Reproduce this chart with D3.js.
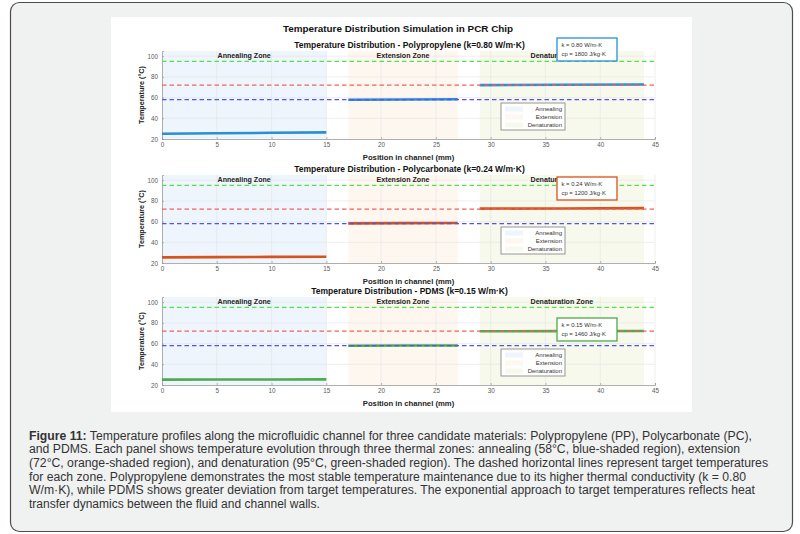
<!DOCTYPE html>
<html>
<head>
<meta charset="utf-8">
<script src="https://cdn.jsdelivr.net/npm/d3@7"></script>
<style>
  body { margin: 0; background: #fff; }
  svg { display: block; font-family: "Liberation Sans", Arial, sans-serif; }
</style>
</head>
<body>
<div id="chart"></div>
<script>
// --- données ---
const materials = ["Polypropylene", "Polycarbonate", "PDMS"];
const kValues = [0.80, 0.24, 0.15];
const cpValues = [1800, 1200, 1460];
const materialColors = ["#2a8fd4", "#d4541c", "#4cab4c"];

const zoneNames = ["Annealing Zone", "Extension Zone", "Denaturation Zone"];
const legendNames = ["Annealing", "Extension", "Denaturation"];
const zoneStart = [0, 17, 29];
const zoneEnd = [15, 27, 44];
const zoneFills = ["#eef5fc", "#fdf7ef", "#f7f9ec"];

const targetTemps = [95, 72, 58];
const targetColors = ["#4fe34f", "#f06262", "#5252f0"];

const xTicks = [0, 5, 10, 15, 20, 25, 30, 35, 40, 45];
const yTicks = [20, 40, 60, 80, 100];

// positions des points de chaque segment (mm)
const segX = [[0, 5, 10, 15], [17, 22, 27], [29, 36.5, 44]];
// températures (°C) par matériau et par segment
const ppTemps = [[25.0, 25.5, 26.0, 26.4], [57.9, 58.2, 58.4], [72.0, 72.4, 72.7]];
const pcTemps = [[25.4, 25.7, 25.9, 26.1], [58.3, 58.5, 58.6], [72.5, 72.7, 73.0]];
const pdmsTemps = [[25.2, 25.3, 25.3, 25.4], [57.9, 58.1, 58.2], [71.9, 72.0, 72.1]];
const allTemps = [ppTemps, pcTemps, pdmsTemps];

const captionLines = [
  "Temperature profiles along the microfluidic channel for three candidate materials: Polypropylene (PP), Polycarbonate (PC),",
  "and PDMS. Each panel shows temperature evolution through three thermal zones: annealing (58°C, blue-shaded region), extension",
  "(72°C, orange-shaded region), and denaturation (95°C, green-shaded region). The dashed horizontal lines represent target temperatures",
  "for each zone. Polypropylene demonstrates the most stable temperature maintenance due to its higher thermal conductivity (k = 0.80",
  "W/m·K), while PDMS shows greater deviation from target temperatures. The exponential approach to target temperatures reflects heat",
  "transfer dynamics between the fluid and channel walls."
];

// --- mise en page ---
const width = 800, height = 534;
const plotLeft = 162, plotRight = 655;
const panelTops = [51, 175, 297];
const panelH = 88;

const svg = d3.select("#chart").append("svg")
  .attr("width", width).attr("height", height);

// cadre gris arrondi
svg.append("rect")
  .attr("x", 10.5).attr("y", 2.5).attr("width", 782).attr("height", 529)
  .attr("rx", 9).attr("fill", "#f0f1f1").attr("stroke", "#4d4d4d").attr("stroke-width", 1.2);

// zone blanche de la figure
svg.append("rect")
  .attr("x", 111).attr("y", 17).attr("width", 581).attr("height", 395)
  .attr("fill", "#fff");

svg.append("text")
  .attr("x", 398).attr("y", 32)
  .attr("text-anchor", "middle")
  .attr("font-weight", "bold").attr("font-size", 9.9).attr("fill", "#111")
  .text("Temperature Distribution Simulation in PCR Chip");

const x = d3.scaleLinear().domain([0, 45]).range([plotLeft, plotRight]);

materials.forEach((m, i) => drawPanel(i));

function drawPanel(i) {
  const top = panelTops[i];
  const y = d3.scaleLinear().domain([20, 105]).range([top + panelH, top]);
  const g = svg.append("g");

  // zones ombrées
  g.selectAll(".zone").data(zoneNames).join("rect")
    .attr("x", (d, j) => x(zoneStart[j]))
    .attr("y", y(105))
    .attr("width", (d, j) => x(zoneEnd[j]) - x(zoneStart[j]))
    .attr("height", y(20) - y(105))
    .attr("fill", (d, j) => zoneFills[j]);

  // grille
  g.selectAll(".gx").data(xTicks.slice(1)).join("line")
    .attr("x1", d => x(d)).attr("x2", d => x(d))
    .attr("y1", y(20)).attr("y2", y(105))
    .attr("stroke", "#e4e4e4").attr("stroke-width", 0.6);
  g.selectAll(".gy").data(yTicks.slice(1)).join("line")
    .attr("x1", x(0)).attr("x2", x(45))
    .attr("y1", d => y(d)).attr("y2", d => y(d))
    .attr("stroke", "#e4e4e4").attr("stroke-width", 0.6);

  // axes
  const xAxis = g.append("g")
    .attr("transform", `translate(0,${y(20)})`)
    .call(d3.axisBottom(x).tickValues(xTicks).tickSize(-2).tickPadding(4));
  const yAxis = g.append("g")
    .attr("transform", `translate(${x(0)},0)`)
    .call(d3.axisLeft(y).tickValues(yTicks).tickSize(-2).tickPadding(4));
  [xAxis, yAxis].forEach(a => {
    a.select(".domain").attr("stroke", "#9a9a9a").attr("stroke-width", 0.8);
    a.selectAll(".tick line").attr("stroke", "#9a9a9a").attr("stroke-width", 0.7);
    a.selectAll(".tick text").attr("fill", "#5a5a5a").attr("font-size", 6.3)
      .attr("font-family", "Liberation Sans, Arial, sans-serif");
  });

  // noms des zones
  g.selectAll(".zl").data(zoneNames).join("text")
    .attr("x", (d, j) => x((zoneStart[j] + zoneEnd[j]) / 2))
    .attr("y", y(98.6))
    .attr("text-anchor", "middle")
    .attr("font-size", 7.1).attr("font-weight", "bold").attr("fill", "#222")
    .text(d => d);

  // courbes du matériau
  const line = d3.line().x(d => x(d[0])).y(d => y(d[1]));
  segX.forEach((xs, s) => {
    const pts = xs.map((v, k) => [v, allTemps[i][s][k]]);
    g.append("path")
      .attr("d", line(pts))
      .attr("fill", "none")
      .attr("stroke", materialColors[i])
      .attr("stroke-width", 2.6);
  });

  // températures cibles
  g.selectAll(".target").data(targetTemps).join("line")
    .attr("x1", x(0)).attr("x2", x(45))
    .attr("y1", d => y(d)).attr("y2", d => y(d))
    .attr("stroke", (d, j) => targetColors[j])
    .attr("stroke-width", 1.1)
    .attr("stroke-dasharray", "4.5,3");

  // titre du panneau
  g.append("text")
    .attr("x", (plotLeft + plotRight) / 2 + 1).attr("y", top - 3.5)
    .attr("text-anchor", "middle")
    .attr("font-size", 8.5).attr("font-weight", "bold").attr("fill", "#111")
    .text(`Temperature Distribution - ${materials[i]} (k=${kValues[i].toFixed(2)} W/m·K)`);

  // légende des zones
  const lg = g.append("g").attr("transform", `translate(501,${top + 52})`);
  lg.append("rect").attr("width", 64).attr("height", 27)
    .attr("fill", "#fff").attr("stroke", "#8a8a8a").attr("stroke-width", 0.9);
  legendNames.forEach((n, j) => {
    lg.append("rect").attr("x", 4).attr("y", 3.5 + j * 8).attr("width", 18).attr("height", 5)
      .attr("fill", zoneFills[j]);
    lg.append("text").attr("x", 61).attr("y", 8.3 + j * 8)
      .attr("text-anchor", "end").attr("font-size", 6).attr("fill", "#333")
      .text(n);
  });

  // boîte des propriétés
  const boxTops = [38, 177, 318];
  const kb = g.append("g").attr("transform", `translate(557,${boxTops[i]})`);
  kb.append("rect").attr("width", 60).attr("height", 23)
    .attr("fill", "#fff").attr("stroke", materialColors[i]).attr("stroke-width", 1.3);
  kb.append("text").attr("x", 4.5).attr("y", 9).attr("font-size", 5.9).attr("fill", "#333")
    .text(`k = ${kValues[i].toFixed(2)} W/m·K`);
  kb.append("text").attr("x", 4.5).attr("y", 17.8).attr("font-size", 5.9).attr("fill", "#333")
    .text(`cp = ${cpValues[i]} J/kg·K`);

  // titres d'axes
  g.append("text")
    .attr("x", (plotLeft + plotRight) / 2).attr("y", y(20) + 20.5)
    .attr("text-anchor", "middle")
    .attr("font-size", 7.7).attr("font-weight", "bold").attr("fill", "#222")
    .text("Position in channel (mm)");
  g.append("text")
    .attr("transform", `translate(144,${top + panelH / 2}) rotate(-90)`)
    .attr("text-anchor", "middle")
    .attr("font-size", 7.2).attr("font-weight", "bold").attr("fill", "#222")
    .text("Temperature (°C)");
}

// légende de la figure
const lineEnds = [752, 740, 768, 746, 755, null];
const cap = svg.append("g").attr("fill", "#333").attr("font-size", 12);
captionLines.forEach((t, i) => {
  const txt = cap.append("text")
    .attr("x", 29).attr("y", 439.5 + i * 13.7);
  if (i === 0) {
    txt.append("tspan").attr("font-weight", "bold").text("Figure 11:");
    txt.append("tspan").text(" " + t);
  } else {
    txt.text(t);
  }
  if (lineEnds[i]) {
    txt.attr("textLength", lineEnds[i] - 29).attr("lengthAdjust", "spacingAndGlyphs");
  }
});
</script>
</body>
</html>
